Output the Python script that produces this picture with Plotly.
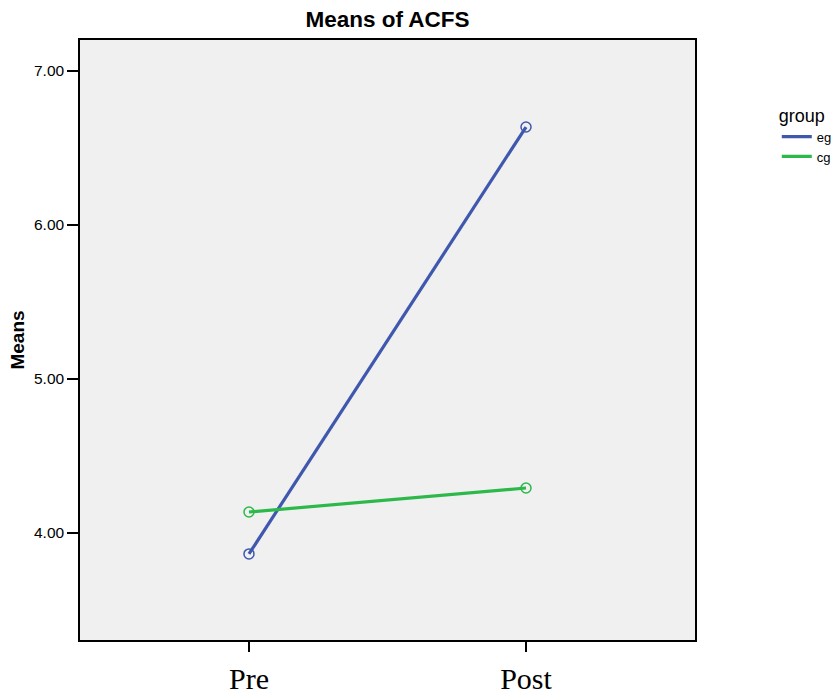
import plotly.graph_objects as go

# Estimated marginal means of ACFS by time and group
times = ["Pre", "Post"]
groups = ["eg", "cg"]
eg_means = [3.864, 6.636]
cg_means = [4.136, 4.292]
colors = {"eg": "#3F57AD", "cg": "#2DB84A"}
series = {"eg": eg_means, "cg": cg_means}

fig = go.Figure()

for g in groups:
    fig.add_trace(go.Scatter(
        x=[0, 1], y=series[g], mode="lines+markers",
        line=dict(color=colors[g], width=3.2),
        marker=dict(symbol="circle-open", size=10, color=colors[g],
                    line=dict(width=1.5, color=colors[g])),
        showlegend=False, hoverinfo="y",
    ))

# legend keys drawn as plain line samples
for g in groups:
    fig.add_trace(go.Scatter(
        x=[None], y=[None], mode="lines", name=g,
        line=dict(color=colors[g], width=3.2),
    ))

fig.update_layout(
    width=835, height=698,
    margin=dict(l=80, r=140, t=40, b=58, autoexpand=False),
    paper_bgcolor="white",
    plot_bgcolor="#F0F0F0",
    font=dict(family="Liberation Sans, Arial", color="black"),
    title=dict(text="<b>Means of ACFS</b>", x=0.5, xref="paper",
               y=0.972, yanchor="middle",
               font=dict(size=22.5, family="Liberation Sans, Arial")),
    legend=dict(
        title=dict(text="group", font=dict(size=18)),
        x=1.133, xanchor="left", y=0.903, yanchor="top",
        font=dict(size=13), itemwidth=30, tracegroupgap=0,
        bgcolor="rgba(0,0,0,0)",
    ),
    xaxis=dict(
        range=[-0.61, 1.61], tickmode="array", tickvals=[0, 1],
        ticktext=times, ticks="outside", ticklen=10, tickwidth=1.5,
        tickcolor="black", showgrid=False, zeroline=False, automargin=False,
        showline=True, linecolor="black", linewidth=1.5, mirror=True,
        tickfont=dict(family="Liberation Serif, Times New Roman", size=30),
        ticklabelstandoff=1,
    ),
    yaxis=dict(
        range=[3.305, 7.201], tickvals=[4, 5, 6, 7], tickformat=".2f",
        ticks="outside", ticklen=11, tickwidth=2, tickcolor="black",
        showgrid=False, zeroline=False, automargin=False,
        showline=True, linecolor="black", linewidth=1.5, mirror=True,
        tickfont=dict(size=15.5),
        title=dict(text="<b>Means</b>", font=dict(size=19), standoff=4),
    ),
)

fig.write_html("out.html")
